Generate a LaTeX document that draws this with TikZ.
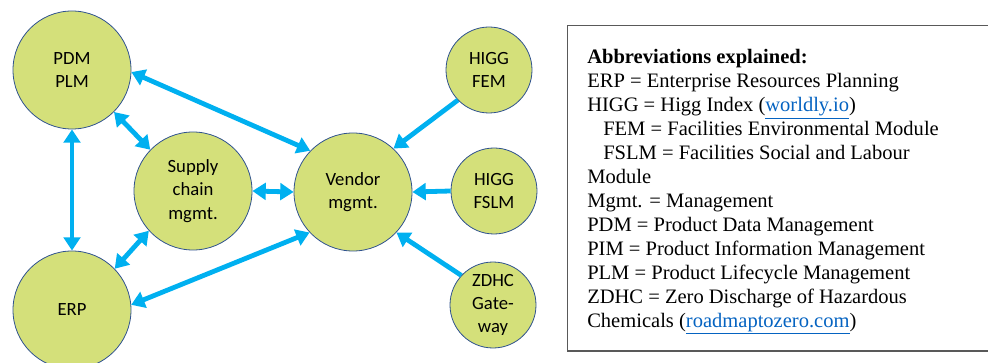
\documentclass[tikz,border=0pt]{standalone}
\usepackage{fontspec}
\setmainfont{Liberation Serif}
\newfontfamily\calib{Carlito}
\usetikzlibrary{arrows.meta}
\definecolor{circfill}{RGB}{212,224,122}
\definecolor{circline}{RGB}{47,82,143}
\definecolor{arrowc}{RGB}{0,176,240}
\definecolor{linkc}{RGB}{5,99,193}
\definecolor{boxline}{RGB}{89,89,89}
\newcommand{\lnk}[1]{\textcolor{linkc}{\underline{#1}}}
\begin{document}
\begin{tikzpicture}[x=0.75pt,y=-0.75pt,
  bigc/.style={circle,draw=circline,line width=0.6pt,fill=circfill,minimum size=88.5pt,inner sep=0pt,align=center,font=\calib\fontsize{14}{17.5}\selectfont},
  smallc/.style={bigc,minimum size=64.5pt},
  conn/.style={draw=arrowc,line width=3.6pt,-{Triangle[length=10pt,width=12.5pt]}},
  bconn/.style={conn,{Triangle[length=10pt,width=12.5pt]}-{Triangle[length=10pt,width=12.5pt]}}]
\useasboundingbox (0,0) rectangle (988,363);
\begin{scope}
\clip (0,0) rectangle (988,363);
\node[bigc] (pdm) at (72,70) {PDM\\PLM};
\node[bigc] (scm) at (193,191) {Supply\\chain\\mgmt.};
\node[bigc] (erp) at (72,310) {ERP};
\node[bigc] (ven) at (353,192) {Vendor\\mgmt.};
\node[smallc] (fem) at (489,70) {HIGG\\FEM};
\node[smallc] (fslm) at (494,191) {HIGG\\FSLM};
\node[smallc] (zdhc) at (493,305) {ZDHC\\Gate-\\way};
\draw[bconn] (pdm.-2) -- (ven.136);
\draw[bconn] (pdm.-45) -- (scm.136);
\draw[bconn] (pdm.south) -- (erp.north);
\draw[bconn] (erp.44) -- (scm.222);
\draw[bconn] (erp.5) -- (ven.223);
\draw[bconn] (scm.east) -- (ven.west);
\draw[conn] (fem.224) -- (ven.47);
\draw[conn] (fslm.west) -- (ven.east);
\draw[conn] (zdhc.137) -- (ven.-43);
\node[draw=boxline,line width=1.1pt,minimum width=430pt,minimum height=244pt,anchor=north west,inner sep=0pt] (box) at (567,25) {};
\end{scope}
\node[anchor=north west,align=left,inner sep=0pt,font=\fontsize{15.4}{18}\selectfont] (txt) at (587,49) {%
\textbf{Abbreviations explained:}\\
ERP = Enterprise Resources Planning\\
HIGG = Higg Index (\lnk{worldly.io})\\
\hspace*{12pt}FEM = Facilities Environmental Module\\
\hspace*{12pt}FSLM = Facilities Social and Labour\\
Module\\
Mgmt. = Management\\
PDM = Product Data Management\\
PIM = Product Information Management\\
PLM = Product Lifecycle Management\\
ZDHC = Zero Discharge of Hazardous\\
Chemicals (\lnk{roadmaptozero.com})};
\end{tikzpicture}
\end{document}
